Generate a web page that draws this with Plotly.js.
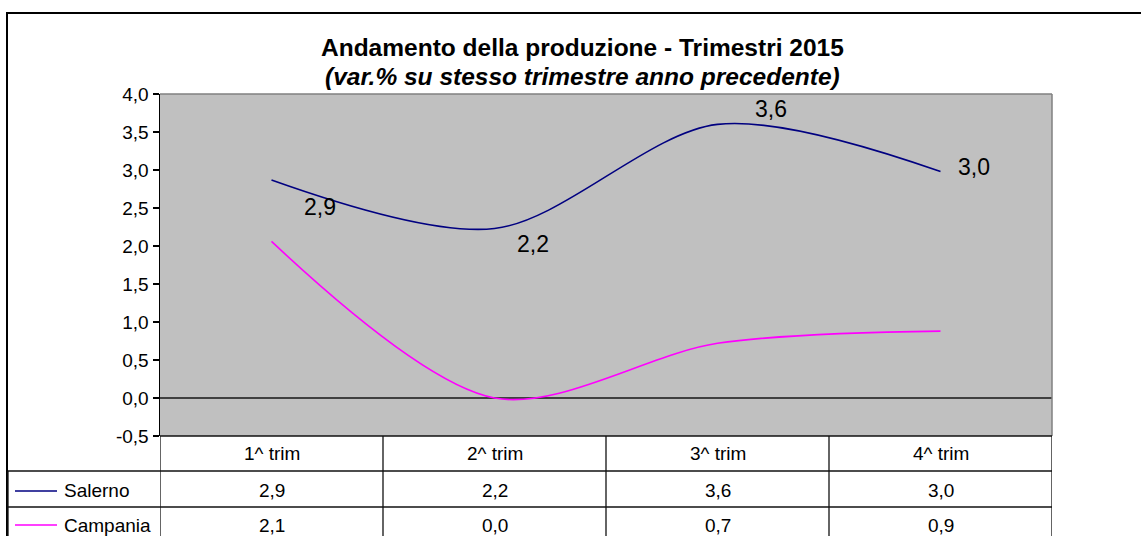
<!DOCTYPE html>
<html>
<head>
<meta charset="utf-8">
<script src="https://cdn.plot.ly/plotly-3.0.1.min.js"></script>
<style>
  html, body { margin: 0; padding: 0; background: #fff; }
  #chart { width: 1141px; height: 536px; }
</style>
</head>
<body>
<div id="chart"></div>
<script>
const categories = ['1^ trim', '2^ trim', '3^ trim', '4^ trim'];
const salerno = [2.87, 2.23, 3.6, 2.98];
const campania = [2.06, 0.0, 0.72, 0.88];
const seriesNames = ['Salerno', 'Campania'];
const seriesColors = ['#000080', '#ff00ff'];
const yTicks = [-0.5, 0, 0.5, 1, 1.5, 2, 2.5, 3, 3.5, 4];
const titleLines = ['Andamento della produzione - Trimestri 2015', '(var.% su stesso trimestre anno precedente)'];

// pixel offsets of the Salerno data labels (moved by hand in the original)
const labelShift = [[48, -27], [38, -15], [53, 15], [33, 5]];

const FONT = 'Liberation Sans, Arial, sans-serif';
const W = 892, H = 342; // plot area size in px
const px = (x) => (x - 160) / W;     // page x -> paper x
const py = (y) => (436 - y) / H;     // page y -> paper y
const fmt = (v) => v.toFixed(1).replace('.', ',');

const allSeries = [salerno, campania];

const traces = allSeries.map((vals, i) => ({
    x: categories,
    y: vals,
    type: 'scatter',
    mode: 'lines',
    name: seriesNames[i],
    line: { color: seriesColors[i], width: 1.6, shape: 'spline', smoothing: 0.9 },
    hoverinfo: 'skip'
}));

const shapes = [];
const annotations = [];

// plot area border (top + right, grey)
shapes.push({ type: 'line', xref: 'paper', yref: 'paper', x0: 0, x1: 1, y0: 1, y1: 1, line: { color: '#808080', width: 1.5 } });
shapes.push({ type: 'line', xref: 'paper', yref: 'paper', x0: 1, x1: 1, y0: 0, y1: 1, line: { color: '#808080', width: 1.5 } });

// outer chart border
shapes.push({ type: 'rect', xref: 'paper', yref: 'paper', x0: px(7), x1: px(1160), y0: py(560), y1: py(13), line: { color: '#000', width: 2 } });

// data table grid
const rowLines = [py(471), py(507)];
const tableBottom = py(560);
const tableLine = { color: '#111', width: 1.3 };
shapes.push({ type: 'line', xref: 'paper', yref: 'paper', x0: 0, x1: 1, y0: 0, y1: 0, line: tableLine });
rowLines.forEach(y => {
    shapes.push({ type: 'line', xref: 'paper', yref: 'paper', x0: px(8), x1: 1, y0: y, y1: y, line: tableLine });
});
for (let i = 0; i <= categories.length; i++) {
    shapes.push({ type: 'line', xref: 'x', yref: 'paper', x0: i - 0.5, x1: i - 0.5, y0: 0, y1: tableBottom, line: tableLine });
}
shapes.push({ type: 'line', xref: 'paper', yref: 'paper', x0: px(8), x1: px(8), y0: rowLines[0], y1: tableBottom, line: tableLine });

// header row
categories.forEach(c => {
    annotations.push({ x: c, y: py(453.5), xref: 'x', yref: 'paper', text: c, showarrow: false,
        font: { family: FONT, size: 19, color: '#000' }, xanchor: 'center', yanchor: 'middle' });
});

// series rows
const rowY = [py(491), py(525)];
allSeries.forEach((vals, s) => {
    shapes.push({ type: 'line', xref: 'paper', yref: 'paper', x0: px(15), x1: px(57), y0: rowY[s], y1: rowY[s],
        line: { color: seriesColors[s], width: 1.6 } });
    annotations.push({ x: px(62), y: rowY[s], xref: 'paper', yref: 'paper', text: seriesNames[s], showarrow: false,
        font: { family: FONT, size: 19, color: '#000' }, xanchor: 'left', yanchor: 'middle' });
    vals.forEach((v, i) => {
        annotations.push({ x: categories[i], y: rowY[s], xref: 'x', yref: 'paper', text: fmt(v), showarrow: false,
            font: { family: FONT, size: 19, color: '#000' }, xanchor: 'center', yanchor: 'middle' });
    });
});

// data labels for Salerno
salerno.forEach((v, i) => {
    annotations.push({ x: categories[i], y: v, xref: 'x', yref: 'y', text: fmt(v), showarrow: false,
        xshift: labelShift[i][0], yshift: labelShift[i][1],
        font: { family: FONT, size: 23, color: '#000' }, xanchor: 'center', yanchor: 'middle' });
});

// titles
annotations.push({ x: px(582), y: py(47), xref: 'paper', yref: 'paper', text: '<b>' + titleLines[0] + '</b>', showarrow: false,
    font: { family: FONT, size: 24.5, color: '#000' }, xanchor: 'center', yanchor: 'middle' });
annotations.push({ x: px(582), y: py(76), xref: 'paper', yref: 'paper', text: '<b><i>' + titleLines[1] + '</i></b>', showarrow: false,
    font: { family: FONT, size: 24.5, color: '#000' }, xanchor: 'center', yanchor: 'middle' });

const layout = {
    width: 1141,
    height: 536,
    margin: { l: 160, r: 89, t: 94, b: 100, pad: 0 },
    paper_bgcolor: '#ffffff',
    plot_bgcolor: '#c0c0c0',
    separators: ',.',
    showlegend: false,
    font: { family: FONT, color: '#000' },
    xaxis: {
        type: 'category',
        range: [-0.5, categories.length - 0.5],
        showticklabels: false,
        showgrid: false,
        zeroline: false,
        showline: false,
        ticks: ''
    },
    yaxis: {
        range: [-0.5, 4.0],
        tickmode: 'array',
        tickvals: yTicks,
        ticktext: yTicks.map(fmt),
        ticks: 'outside',
        ticklen: 6,
        tickwidth: 1.3,
        tickcolor: '#000',
        showline: true,
        linecolor: '#000',
        linewidth: 1.5,
        showgrid: false,
        zeroline: true,
        zerolinecolor: '#404040',
        zerolinewidth: 1.5,
        tickfont: { family: FONT, size: 19, color: '#000' }
    },
    shapes: shapes,
    annotations: annotations
};

Plotly.newPlot('chart', traces, layout, { displayModeBar: false, staticPlot: true });
</script>
</body>
</html>
